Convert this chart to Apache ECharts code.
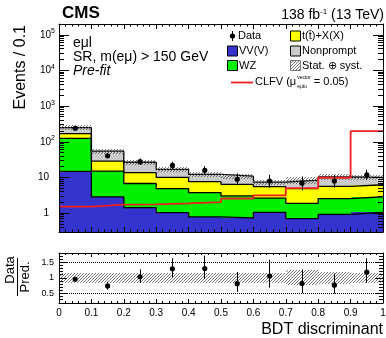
<!DOCTYPE html>
<html><head><meta charset="utf-8">
<script src="https://cdn.jsdelivr.net/npm/echarts@6/dist/echarts.min.js"></script>
<style>html,body{margin:0;padding:0;background:#fff}#c{width:386px;height:338px}</style>
</head><body><div id="c"></div>
<script>
// ---------------- data ----------------
const binEdges = [0, 0.1, 0.2, 0.3, 0.4, 0.5, 0.6, 0.7, 0.8, 0.9, 1.0];
const xTickLabels = ['0', '0.1', '0.2', '0.3', '0.4', '0.5', '0.6', '0.7', '0.8', '0.9', '1'];
const vvv       = [15, 2.9, 1.45, 1.05, 0.8, 0.74, 1.07, 0.71, 0.94, 1.06];
const wz        = [110, 12.3, 5.4, 3.85, 3.0, 2.35, 1.6, 1.2, 1.65, 1.85];
const ttx       = [45, 13.8, 6.9, 5.2, 3.9, 3.4, 2.95, 3.0, 3.1, 3.4];
const nonprompt = [80, 26, 13.2, 6.9, 4.6, 4.5, 1.9, 3.6, 4.7, 3.8];
const dataObs   = [240, 41, 28, 22, 16, 9, 8, 7, 8, 12];
const dataErrLo = [15.5, 6.4, 5.3, 4.7, 4.0, 2.9, 2.8, 2.6, 2.8, 3.4];
const dataErrHi = [16.5, 7.5, 6.3, 5.7, 5.1, 4.1, 3.9, 3.8, 3.9, 4.5];
const clfv      = [1.54, 1.75, 1.77, 1.9, 2.07, 2.6, 3.2, 5.1, 9.9, 199];
const uncLo     = [0.16, 0.15, 0.16, 0.16, 0.15, 0.16, 0.16, 0.22, 0.19, 0.16];
const uncHi     = [0.16, 0.15, 0.16, 0.16, 0.15, 0.16, 0.16, 0.25, 0.20, 0.16];

// ---------------- setup ----------------
const FONT = '"Liberation Sans", Arial, Helvetica, sans-serif';
const YMIN = 0.3, YMAX = 2e5, RMIN = 0.2, RMAX = 1.8;
const COL = {vvv: '#3434cc', wz: '#00f000', ttx: '#ffff00', np: '#cbcbcb', clfv: '#f02020'};
const nb = vvv.length;
const cum1 = vvv.slice();
const cum2 = cum1.map((v, i) => v + wz[i]);
const cum3 = cum2.map((v, i) => v + ttx[i]);
const cum4 = cum3.map((v, i) => v + nonprompt[i]);
const total = cum4;

const hatchCanvas = (() => {
  const s = 3;
  const c = document.createElement('canvas'); c.width = s; c.height = s;
  const g = c.getContext('2d');
  g.strokeStyle = 'rgba(80,80,80,0.85)'; g.lineWidth = 0.9;
  g.beginPath();
  g.moveTo(0, s); g.lineTo(s, 0);
  g.moveTo(-1, 1); g.lineTo(1, -1);
  g.moveTo(s - 1, s + 1); g.lineTo(s + 1, s - 1);
  g.stroke();
  return c;
})();
const hatchFill = {image: hatchCanvas, repeat: 'repeat'};

const measure = (() => {
  const c = document.createElement('canvas').getContext('2d');
  return (txt, font) => { c.font = font; return c.measureText(txt).width; };
})();

function crisp(v) { return Math.round(v - 0.5) + 0.5; }

function rectSeries(xi, yi, rows, fill, z) {
  return {
    type: 'custom', xAxisIndex: xi, yAxisIndex: yi, z, silent: true,
    encode: {x: [0, 1], y: [2, 3]}, data: rows,
    renderItem: (p, api) => {
      const a = api.coord([api.value(0), api.value(3)]);
      const b = api.coord([api.value(1), api.value(2)]);
      const x0 = Math.round(a[0]), x1 = Math.round(b[0]);
      const y0 = Math.round(a[1]), y1 = Math.round(b[1]);
      return {type: 'rect', shape: {x: x0, y: y0, width: x1 - x0, height: y1 - y0}, style: {fill}};
    }
  };
}
function stepSeries(vals, color, width, z) {
  return {
    type: 'line', xAxisIndex: 0, yAxisIndex: 0, step: 'end', symbol: 'none', showSymbol: false,
    silent: true, z, data: binEdges.map((x, i) => [x, vals[Math.min(i, nb - 1)]]),
    lineStyle: {color, width}
  };
}
function pointSeries(xi, yi, rows, ymin, ymax) {
  return {
    type: 'custom', xAxisIndex: xi, yAxisIndex: yi, z: 9, silent: true,
    encode: {x: 0, y: [1, 2, 3]}, data: rows,
    renderItem: (p, api) => {
      const x = api.value(0);
      const c = api.coord([x, api.value(1)]);
      const lo = api.coord([x, Math.max(api.value(2), ymin)]);
      const hi = api.coord([x, Math.min(api.value(3), ymax)]);
      const cx = crisp(c[0]);
      return {type: 'group', children: [
        {type: 'line', shape: {x1: cx, y1: lo[1], x2: cx, y2: hi[1]}, style: {stroke: '#000', lineWidth: 1}},
        {type: 'circle', shape: {cx: c[0], cy: c[1], r: 2.6}, style: {fill: '#000'}}
      ]};
    }
  };
}
function minorTicks(xi, yi, vals, len) {
  return {
    type: 'custom', xAxisIndex: xi, yAxisIndex: yi, z: 20, silent: true,
    encode: {x: 0, y: 1}, data: vals.map(v => [0.5, v]),
    renderItem: (p, api) => {
      const v = api.value(1);
      const a = api.coord([0, v]), b = api.coord([1, v]);
      const y = crisp(a[1]);
      return {type: 'group', children: [
        {type: 'line', shape: {x1: a[0], y1: y, x2: a[0] + len, y2: y}, style: {stroke: '#000', lineWidth: 1}},
        {type: 'line', shape: {x1: b[0], y1: y, x2: b[0] - len, y2: y}, style: {stroke: '#000', lineWidth: 1}}
      ]};
    }
  };
}

// minor tick values (axis decoration)
const logMinor = [];
for (let e = -1; e <= 5; e++) for (let m = 2; m <= 9; m++) {
  const v = m * Math.pow(10, e);
  if (v > YMIN * 0.999 && v < YMAX * 1.001) logMinor.push(v);
}
const ratioMinor = [];
for (let k = 3; k <= 17; k++) if (k % 5 !== 0) ratioMinor.push(k / 10);

// ---------------- axes ----------------
const black = {color: '#000', width: 1};
function xAx(grid, pos, showLabels, major, minor) {
  return {
    type: 'value', gridIndex: grid, position: pos, min: 0, max: 1, interval: 0.1, z: 10,
    axisLine: {show: true, onZero: false, lineStyle: black},
    splitLine: {show: false},
    axisTick: {show: true, inside: true, length: major, lineStyle: black},
    minorTick: {show: true, splitNumber: 5, length: minor, lineStyle: black},
    axisLabel: showLabels ? {
      show: true, margin: 5, fontSize: 10, fontFamily: FONT, color: '#000',
      formatter: v => xTickLabels[Math.round(v * 10)] || ''
    } : {show: false}
  };
}
function logLabel(v) {
  const l = Math.log10(v), e = Math.round(l);
  if (Math.abs(l - e) > 1e-6) return '';
  if (e === 0) return '{p|1}';
  if (e === 1) return '{p|10}';
  return '10{s|' + e + '}';
}
function yLog(pos, showLabels) {
  return {
    type: 'log', logBase: 10, gridIndex: 0, position: pos, min: YMIN, max: YMAX, z: 10,
    axisLine: {show: true, onZero: false, lineStyle: black},
    splitLine: {show: false},
    axisTick: {show: true, inside: true, length: 10, lineStyle: black},
    minorTick: {show: false},
    axisLabel: showLabels ? {
      show: true, margin: 4, fontSize: 10, fontFamily: FONT, color: '#000',
      showMinLabel: false, showMaxLabel: false, formatter: logLabel,
      rich: {s: {fontSize: 7, fontFamily: FONT, color: '#000', padding: [0, 0, 7, 0]},
             p: {fontSize: 10, fontFamily: FONT, color: '#000', padding: [0, 6, 0, 0]}}
    } : {show: false}
  };
}
function yRatio(pos, showLabels) {
  return {
    type: 'value', gridIndex: 1, position: pos, min: RMIN, max: RMAX, splitNumber: 3, z: 10,
    axisLine: {show: true, onZero: false, lineStyle: black},
    splitLine: {show: false},
    axisTick: {show: true, inside: true, length: 8, lineStyle: black},
    minorTick: {show: false},
    axisLabel: showLabels ? {
      show: true, margin: 5, fontSize: 9, fontFamily: FONT, color: '#000',
      showMinLabel: false, showMaxLabel: false,
      formatter: v => (Math.abs(v - 0.5) < 1e-6 ? '0.5' : Math.abs(v - 1) < 1e-6 ? '1' : Math.abs(v - 1.5) < 1e-6 ? '1.5' : '')
    } : {show: false}
  };
}

// ---------------- series ----------------
const series = [
  rectSeries(0, 0, vvv.map((v, i) => [binEdges[i], binEdges[i + 1], YMIN, cum1[i]]), COL.vvv, 2),
  rectSeries(0, 0, wz.map((v, i) => [binEdges[i], binEdges[i + 1], cum1[i], cum2[i]]), COL.wz, 2),
  rectSeries(0, 0, ttx.map((v, i) => [binEdges[i], binEdges[i + 1], cum2[i], cum3[i]]), COL.ttx, 2),
  rectSeries(0, 0, nonprompt.map((v, i) => [binEdges[i], binEdges[i + 1], cum3[i], cum4[i]]), COL.np, 2),
  stepSeries(cum1, '#000', 1.3, 3),
  stepSeries(cum2, '#000', 1.3, 3),
  stepSeries(cum3, '#000', 1.3, 3),
  stepSeries(cum4, '#000', 1.3, 3),
  rectSeries(0, 0, total.map((t, i) => [binEdges[i], binEdges[i + 1], t * (1 - uncLo[i]), t * (1 + uncHi[i])]), hatchFill, 5),
  stepSeries(clfv, COL.clfv, 1.8, 6),
  pointSeries(0, 0, dataObs.map((d, i) => [(binEdges[i] + binEdges[i + 1]) / 2, d, d - dataErrLo[i], d + dataErrHi[i]]), YMIN, YMAX),
  // ratio panel
  rectSeries(2, 2, total.map((t, i) => [binEdges[i], binEdges[i + 1], 1 - uncLo[i], 1 + uncHi[i]]), hatchFill, 3),
  {
    type: 'line', xAxisIndex: 2, yAxisIndex: 2, data: [], silent: true, z: 4,
    markLine: {symbol: 'none', silent: true, animation: false, label: {show: false},
      lineStyle: {type: 'dotted', color: '#000', width: 1},
      data: [{yAxis: 0.5}, {yAxis: 1.5}]}
  },
  pointSeries(2, 2, dataObs.map((d, i) => [(binEdges[i] + binEdges[i + 1]) / 2, d / total[i], (d - dataErrLo[i]) / total[i], (d + dataErrHi[i]) / total[i]]), RMIN, RMAX),
  minorTicks(0, 0, logMinor, 5),
  minorTicks(2, 2, ratioMinor, 4)
];

// ---------------- text / legend graphics ----------------
const T = (x, y, text, size, opts = {}) => ({
  type: 'text', x, y, z: 50, silent: true, rotation: opts.rotation || 0,
  style: Object.assign({
    text, font: (opts.weight || '') + ' ' + (opts.style || '') + ' ' + size + 'px ' + FONT,
    fill: '#000', align: opts.align || 'left', verticalAlign: 'middle',
    textAlign: opts.align || 'left', textVerticalAlign: 'middle'
  }, opts.extra || {})
});
const box = (x, y, fill, stroke) => ({type: 'rect', z: 50, silent: true, shape: {x: x + 0.5, y: y + 0.5, width: 10, height: 10}, style: {fill, stroke: stroke || '#000', lineWidth: 1}});

const LF = 11;
const clfvMain = 'CLFV (\u03bc';
const clfvX0 = 255;
const clfvW = measure(clfvMain, LF + 'px ' + FONT);
const supW = measure('vector', '5px ' + FONT);

const graphics = [
  T(62, 13.3, 'CMS', 17, {weight: 'bold'}),
  {type: 'text', x: 384, y: 15.5, z: 50, silent: true, style: {
    text: '138 fb{s|-1} (13 TeV)', font: '14px ' + FONT, fill: '#000',
    align: 'right', verticalAlign: 'middle', textAlign: 'right', textVerticalAlign: 'middle',
    rich: {s: {fontSize: 8, fontFamily: FONT, fill: '#000', padding: [0, 0, 7, 0]}}
  }},
  T(20.5, 25, 'Events / 0.1', 16, {align: 'right', rotation: Math.PI / 2}),
  T(73, 43, 'e\u03bcl', 14),
  T(73, 57.5, 'SR, m(e\u03bc) > 150 GeV', 14),
  T(73, 71.5, 'Pre-fit', 14, {style: 'italic'}),
  T(383, 329.5, 'BDT discriminant', 16, {align: 'right'}),
  // Data / Pred.
  T(10, 270, 'Data', 13, {align: 'center', rotation: Math.PI / 2}),
  T(25, 277, 'Pred.', 13, {align: 'center', rotation: Math.PI / 2}),
  {type: 'line', z: 50, silent: true, shape: {x1: 17.5, y1: 258, x2: 17.5, y2: 296}, style: {stroke: '#000', lineWidth: 1}},
  // legend
  {type: 'line', z: 50, silent: true, shape: {x1: 232.5, y1: 31, x2: 232.5, y2: 41}, style: {stroke: '#000', lineWidth: 1}},
  {type: 'circle', z: 51, silent: true, shape: {cx: 232.5, cy: 36, r: 2.6}, style: {fill: '#000'}},
  T(238, 36, 'Data', LF),
  box(290, 30.5, COL.ttx), T(302, 36, 't(t\u0304)+X(X)', LF),
  box(227, 45.5, COL.vvv), T(239, 51, 'VV(V)', LF),
  box(290, 45.5, COL.np), T(302, 51, 'Nonprompt', LF),
  box(227, 60, COL.wz), T(239, 65.5, 'WZ', LF),
  box(290, 60, hatchFill, '#777'), T(302, 65.5, 'Stat. \u2295 syst.', LF),
  {type: 'line', z: 50, silent: true, shape: {x1: 231, y1: 82.5, x2: 253, y2: 82.5}, style: {stroke: COL.clfv, lineWidth: 1.8}},
  T(clfvX0, 82, clfvMain, LF),
  T(clfvX0 + clfvW + 1, 77.5, 'vector', 5),
  T(clfvX0 + clfvW + 1, 87, 'e\u03bctu', 5),
  T(clfvX0 + clfvW + 1 + supW, 82, ' = 0.05)', LF)
];

const chart = echarts.init(document.getElementById('c'), null, {renderer: 'canvas'});
chart.setOption({
  animation: false,
  backgroundColor: '#fff',
  grid: [
    {left: 59, top: 24, width: 324, height: 208, containLabel: false, outerBoundsMode: 'none'},
    {left: 59, top: 253, width: 324, height: 50, containLabel: false, outerBoundsMode: 'none'}
  ],
  xAxis: [xAx(0, 'bottom', false, 5, 2.5), xAx(0, 'top', false, 5, 2.5), xAx(1, 'bottom', true, 4, 2), xAx(1, 'top', false, 4, 2)],
  yAxis: [yLog('left', true), yLog('right', false), yRatio('left', true), yRatio('right', false)],
  series,
  graphic: graphics
});
</script>
</body></html>
